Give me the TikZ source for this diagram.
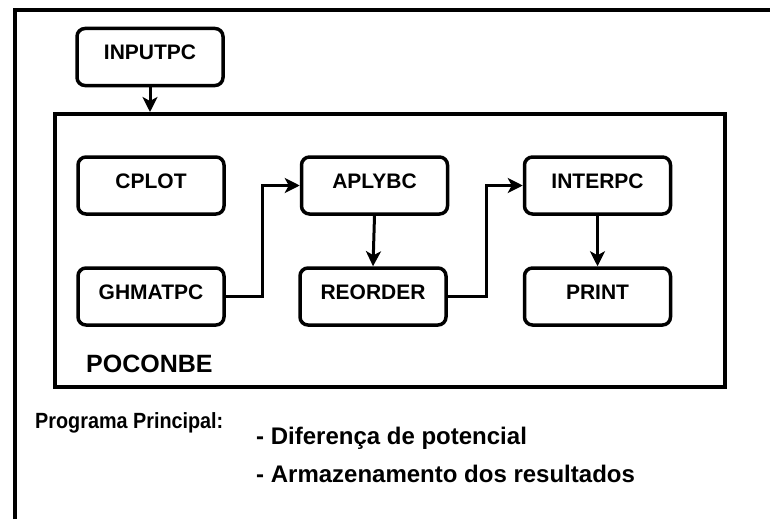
\documentclass[tikz,border=0pt]{standalone}
\usepackage{fontspec}
\setmainfont{Liberation Sans}
\newfontfamily\estreita{Liberation Sans}[FakeStretch=0.9]
\usetikzlibrary{arrows.meta}

\tikzset{
	rotina/.style={draw, line width=3.5pt, rounded corners=8pt, minimum width=146pt, minimum height=57pt, inner sep=0pt, text height=15pt, text depth=9.5pt, font=\fontsize{21}{25}\selectfont\bfseries},
	liga/.style={->, >={Stealth[length=15pt,width=15pt,inset=4pt]}, line width=3pt},
	rotulo/.style={anchor=base west, inner sep=0pt}
}

\begin{document}
\begin{tikzpicture}[x=1pt,y=-1pt]
		\useasboundingbox (0,0) rectangle (770,519);
		% moldura
		\draw[line width=4pt] (15,519) -- (15,10.5) -- (770,10.5);
		\node[draw, line width=4pt, minimum width=669.4pt, minimum height=272.5pt] (poconbe) at (390,250.25) {};
		% rotinas
		\node[rotina] (inputpc) at (150,57) {INPUTPC};
		\node[rotina] (cplot) at (151,185.5) {CPLOT};
		\node[rotina] (ghmatpc) at (151,296.5) {GHMATPC};
		\node[rotina] (aplybc) at (374.5,185.5) {APLYBC};
		\node[rotina] (reorder) at (373,296.5) {REORDER};
		\node[rotina] (interpc) at (597.5,185.5) {INTERPC};
		\node[rotina] (print) at (597.5,296.5) {PRINT};
		% ligacoes
		\draw[liga] (inputpc.south) -- (inputpc.south |- poconbe.north);
		\draw[liga] (ghmatpc.east) -- ++(37,0) |- (aplybc.west);
		\draw[liga] (aplybc.south) -- (reorder.north);
		\draw[liga] (reorder.east) -- ++(39,0) |- (interpc.west);
		\draw[liga] (interpc.south) -- (print.north);
		% textos
		\node[rotulo, font=\fontsize{25}{30}\selectfont\bfseries] (nome) at (86,372) {POCONBE};
		\node[rotulo, font=\fontsize{22}{26}\selectfont\estreita\bfseries] (principal) at (35,428) {Programa Principal:};
		\node[rotulo, font=\fontsize{24}{28}\selectfont\bfseries] (item1) at (256,444) {- Diferença de potencial};
		\node[rotulo, font=\fontsize{24}{28}\selectfont\bfseries] (item2) at (256,482) {- Armazenamento dos resultados};
\end{tikzpicture}
\end{document}
